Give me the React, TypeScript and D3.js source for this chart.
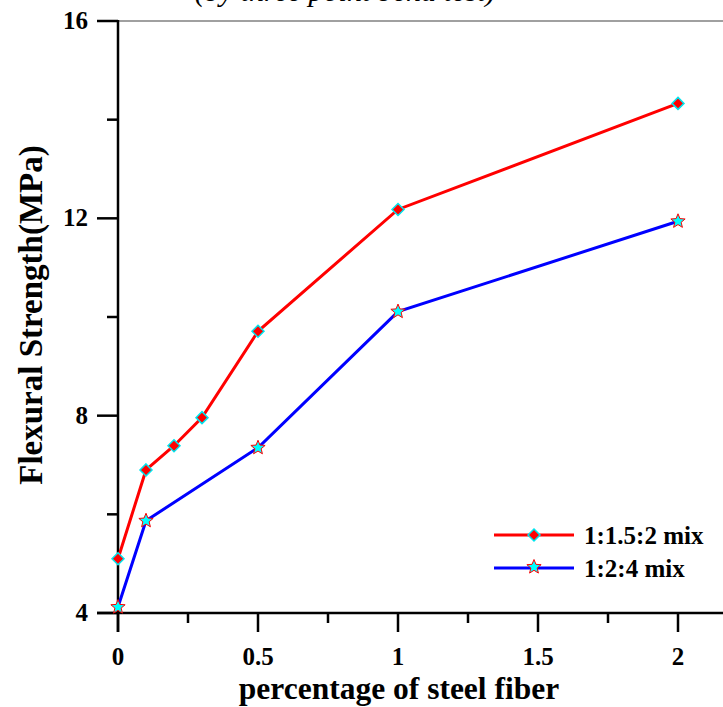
import React from "react";
import * as d3 from "d3";

const fiberPct = [0, 0.1, 0.2, 0.3, 0.5, 1, 2];
const mixA = [5.1, 6.9, 7.39, 7.96, 9.71, 12.18, 14.33];
const fiberPctB = [0, 0.1, 0.5, 1, 2];
const mixB = [4.12, 5.87, 7.35, 10.11, 11.94];
const xTicks = [0, 0.5, 1, 1.5, 2];
const xMinor = [0.25, 0.75, 1.25, 1.75, 2.25];
const yTicks = [4, 8, 12, 16];
const yMinor = [6, 10, 14];
const seriesNames = ["1:1.5:2 mix", "1:2:4 mix"];

const W = 723;
const H = 707;
const FONT = "'Liberation Serif', 'Times New Roman', serif";

function starPath(cx: number, cy: number, R: number, r: number) {
  const pts: string[] = [];
  for (let i = 0; i < 10; i++) {
    const a = -Math.PI / 2 + (i * Math.PI) / 5;
    const rr = i % 2 === 0 ? R : r;
    pts.push(`${cx + rr * Math.cos(a)},${cy + rr * Math.sin(a)}`);
  }
  return "M" + pts.join("L") + "Z";
}

function Diamond({ x, y }: { x: number; y: number }) {
  const s = 6;
  return (
    <path
      d={`M${x},${y - s}L${x + s},${y}L${x},${y + s}L${x - s},${y}Z`}
      fill="#ff0000"
      stroke="#00e5ee"
      strokeWidth={1.5}
    />
  );
}

function Star({ x, y }: { x: number; y: number }) {
  return <path d={starPath(x, y, 7.5, 3.3)} fill="#00ffff" stroke="#ff0000" strokeWidth={1} />;
}

export default function App() {
  const x = d3.scaleLinear().domain([0, 2.2]).range([118, 118 + 2.2 * 280]);
  const y = d3.scaleLinear().domain([4, 16]).range([613, 21]);
  const left = x(0);
  const bottom = y(4);
  const top = y(16);

  const line = d3
    .line<[number, number]>()
    .x((d) => x(d[0]))
    .y((d) => y(d[1]));

  const dataA: [number, number][] = fiberPct.map((p, i) => [p, mixA[i]]);
  const dataB: [number, number][] = fiberPctB.map((p, i) => [p, mixB[i]]);

  return (
    <svg
      width={W}
      height={H}
      style={{ position: "absolute", left: 0, top: 0, background: "#fff" }}
      fontFamily={FONT}
    >
      <rect width={W} height={H} fill="#fff" />
      {/* cut-off title */}
      <text x={345} y={1} textAnchor="middle" fontSize={30} fontStyle="italic" fill="#000">
        (by three point bend test)
      </text>
      {/* top frame */}
      <line x1={left} x2={W} y1={top} y2={top} stroke="#808080" strokeWidth={1.5} />
      {/* y axis */}
      <line x1={left} x2={left} y1={top - 1} y2={bottom + 19} stroke="#000" strokeWidth={2.5} />
      {yTicks.map((t) => (
        <g key={"yt" + t}>
          <line x1={left - 21} x2={left} y1={y(t)} y2={y(t)} stroke="#000" strokeWidth={2.5} />
          <text x={88} y={y(t) + 8} textAnchor="end" fontSize={25} fontWeight="bold">
            {t}
          </text>
        </g>
      ))}
      {yMinor.map((t) => (
        <line key={"ym" + t} x1={left - 11} x2={left} y1={y(t)} y2={y(t)} stroke="#000" strokeWidth={2.5} />
      ))}
      {/* x axis */}
      <line x1={left - 21} x2={W} y1={bottom} y2={bottom} stroke="#000" strokeWidth={2.5} />
      {xTicks.map((t) => (
        <g key={"xt" + t}>
          <line x1={x(t)} x2={x(t)} y1={bottom} y2={bottom + 19} stroke="#000" strokeWidth={2.5} />
          <text x={x(t)} y={665} textAnchor="middle" fontSize={25} fontWeight="bold">
            {t}
          </text>
        </g>
      ))}
      {xMinor.map((t) => (
        <line key={"xm" + t} x1={x(t)} x2={x(t)} y1={bottom} y2={bottom + 10} stroke="#000" strokeWidth={2.5} />
      ))}
      {/* axis titles */}
      <text x={399} y={699} textAnchor="middle" fontSize={31.5} fontWeight="bold">
        percentage of steel fiber
      </text>
      <text
        transform={`translate(42,315) rotate(-90)`}
        textAnchor="middle"
        fontSize={33}
        fontWeight="bold"
      >
        Flexural Strength(MPa)
      </text>
      {/* lines */}
      <path d={line(dataA) || ""} fill="none" stroke="#ff0000" strokeWidth={3} />
      <path d={line(dataB) || ""} fill="none" stroke="#0000ff" strokeWidth={3} />
      {dataA.map((d, i) => (
        <Diamond key={"a" + i} x={x(d[0])} y={y(d[1])} />
      ))}
      {dataB.map((d, i) => (
        <Star key={"b" + i} x={x(d[0])} y={y(d[1])} />
      ))}
      {/* legend */}
      <line x1={494} x2={574} y1={535} y2={535} stroke="#ff0000" strokeWidth={3} />
      <Diamond x={534} y={535} />
      <text x={584} y={544} fontSize={25} fontWeight="bold">
        {seriesNames[0]}
      </text>
      <line x1={494} x2={574} y1={568} y2={568} stroke="#0000ff" strokeWidth={3} />
      <Star x={534} y={567} />
      <text x={584} y={577} fontSize={25} fontWeight="bold">
        {seriesNames[1]}
      </text>
    </svg>
  );
}
